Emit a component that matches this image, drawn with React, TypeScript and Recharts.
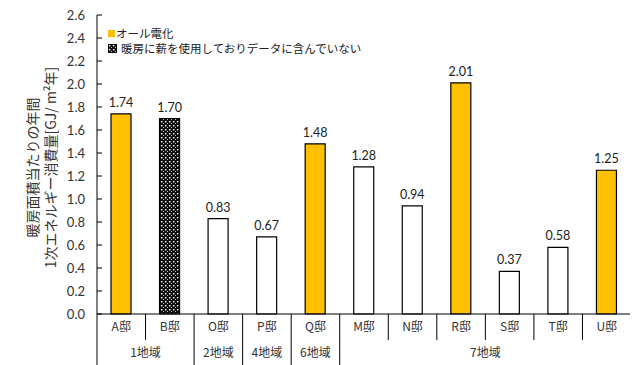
import React from 'react';
import { BarChart, Bar, Cell, XAxis, YAxis, LabelList } from 'recharts';

// houses, values and kind (0 = white, 1 = all-electric, 2 = firewood / excluded)
const houses = ['A邸', 'B邸', 'O邸', 'P邸', 'Q邸', 'M邸', 'N邸', 'R邸', 'S邸', 'T邸', 'U邸'];
const energy = [1.74, 1.70, 0.83, 0.67, 1.48, 1.28, 0.94, 2.01, 0.37, 0.58, 1.25];
const kinds = [1, 2, 0, 0, 1, 0, 0, 1, 0, 0, 1];

const regionNames = ['1地域', '2地域', '4地域', '6地域', '7地域'];
const regionSizes = [2, 1, 1, 1, 6];

const yTicks = [0, 0.2, 0.4, 0.6, 0.8, 1.0, 1.2, 1.4, 1.6, 1.8, 2.0, 2.2, 2.4, 2.6];

const W = 630;
const H = 357;
const LEFT = 89;
const RIGHT = 7;
const BW = (W - LEFT - RIGHT) / houses.length;
const FONT = "'Noto Sans CJK JP', 'Noto Sans', sans-serif";
const NUM_FONT = "Lato, 'Noto Sans', sans-serif";
const ORANGE = '#FFC000';

const data = houses.map((name, i) => ({ name, value: energy[i], kind: kinds[i] }));

// first index of each region, used by the axis tick
const regionStart: number[] = [];
regionSizes.reduce((acc, n) => {
  regionStart.push(acc);
  return acc + n;
}, 0);

const fillFor = (k: number) => (k === 1 ? ORANGE : k === 2 ? 'url(#hatch)' : '#fff');

const YTick = (props: any) => {
  const { x, y, payload } = props;
  return (
    <g>
      <line x1={x + 12} x2={x + 17} y1={y} y2={y} stroke="#000" />
      <text x={x} y={y} dy={4.5} textAnchor="end" fontSize={13} fill="#333" fontFamily={NUM_FONT}>
        {Number(payload.value).toFixed(1)}
      </text>
    </g>
  );
};

const XTick = (props: any) => {
  const { x, y, index, payload } = props;
  const g = regionStart.indexOf(index);
  const isGroupEnd = regionStart.includes(index + 1) || index === houses.length - 1;
  return (
    <g>
      {index === 0 && <line x1={x - BW / 2} x2={x - BW / 2} y1={y} y2={y + 51} stroke="#000" />}
      <line x1={x + BW / 2} x2={x + BW / 2} y1={y} y2={isGroupEnd ? y + 51 : y + 26} stroke="#000" />
      <text x={x} y={y + 17} textAnchor="middle" fontSize={12} fill="#333" fontFamily={FONT}>
        {payload.value}
      </text>
      {g >= 0 && (
        <text
          x={x + ((regionSizes[g] - 1) * BW) / 2}
          y={y + 43}
          textAnchor="middle"
          fontSize={12}
          fill="#333"
          fontFamily={FONT}
        >
          {regionNames[g]}
        </text>
      )}
    </g>
  );
};

const YLabel = (props: any) => {
  const { viewBox } = props;
  const cy = viewBox.y + viewBox.height / 2 + 3;
  return (
    <g fontFamily={FONT} fontSize={14} fill="#333">
      <text transform={`translate(25, ${cy}) rotate(-90)`} textAnchor="middle" dy={5}>
        暖房面積当たりの年間
      </text>
      <text transform={`translate(43, ${cy}) rotate(-90)`} textAnchor="middle" dy={5}>
        1次エネルギー消費量[GJ/ m²年]
      </text>
    </g>
  );
};

export default function App() {
  return (
    <div style={{ position: 'relative', width: W, height: H, fontFamily: FONT }}>
      <BarChart width={W} height={H} data={data} margin={{ top: 7, right: RIGHT, left: 0, bottom: 0 }}>
        <defs>
          <pattern id="hatch" width="4" height="4" patternUnits="userSpaceOnUse">
            <rect width="4" height="4" fill="#111" />
            <rect x="1" y="1" width="1.4" height="1.4" fill="#fff" />
            <rect x="3" y="3" width="1" height="1" fill="#bbb" />
          </pattern>
        </defs>
        <XAxis
          dataKey="name"
          height={51}
          tickSize={0}
          tickMargin={0}
          tickLine={false}
          axisLine={{ stroke: '#000' }}
          interval={0}
          tick={<XTick />}
        />
        <XAxis xAxisId="top" orientation="top" dataKey="name" height={0} tick={false} tickLine={false} axisLine={{ stroke: '#000' }} />
        <YAxis
          width={LEFT}
          domain={[0, 2.6]}
          ticks={yTicks}
          interval={0}
          tickSize={0}
          tickMargin={12}
          tickLine={false}
          axisLine={{ stroke: '#000' }}
          tick={<YTick />}
          label={{ content: <YLabel /> }}
        />
        <YAxis yAxisId="right" orientation="right" width={0} tick={false} tickLine={false} axisLine={{ stroke: '#000' }} />
        <Bar dataKey="value" barSize={20} stroke="#000" strokeWidth={1.2} isAnimationActive={false}>
          {data.map((d, i) => (
            <Cell key={`c-${i}`} fill={fillFor(d.kind)} />
          ))}
          <LabelList
            dataKey="value"
            position="top"
            offset={7}
            fontSize={12.5}
            fill="#222"
            fontFamily={NUM_FONT}
            formatter={(v: any) => Number(v).toFixed(2)}
          />
        </Bar>
      </BarChart>
      <div style={{ position: 'absolute', left: 100, top: 18, fontSize: 11.5, color: '#222', lineHeight: '15px' }}>
        <div style={{ display: 'flex', alignItems: 'center', height: 15 }}>
          <span style={{ width: 7, height: 7, background: ORANGE, display: 'inline-block', marginRight: 1 }} />
          オール電化
        </div>
        <div style={{ display: 'flex', alignItems: 'center', height: 15 }}>
          <svg width={9} height={9} style={{ marginRight: 4 }}>
            <rect width={9} height={9} fill="url(#hatch)" stroke="#000" strokeWidth={1} />
          </svg>
          暖房に薪を使用しておりデータに含んでいない
        </div>
      </div>
    </div>
  );
}
